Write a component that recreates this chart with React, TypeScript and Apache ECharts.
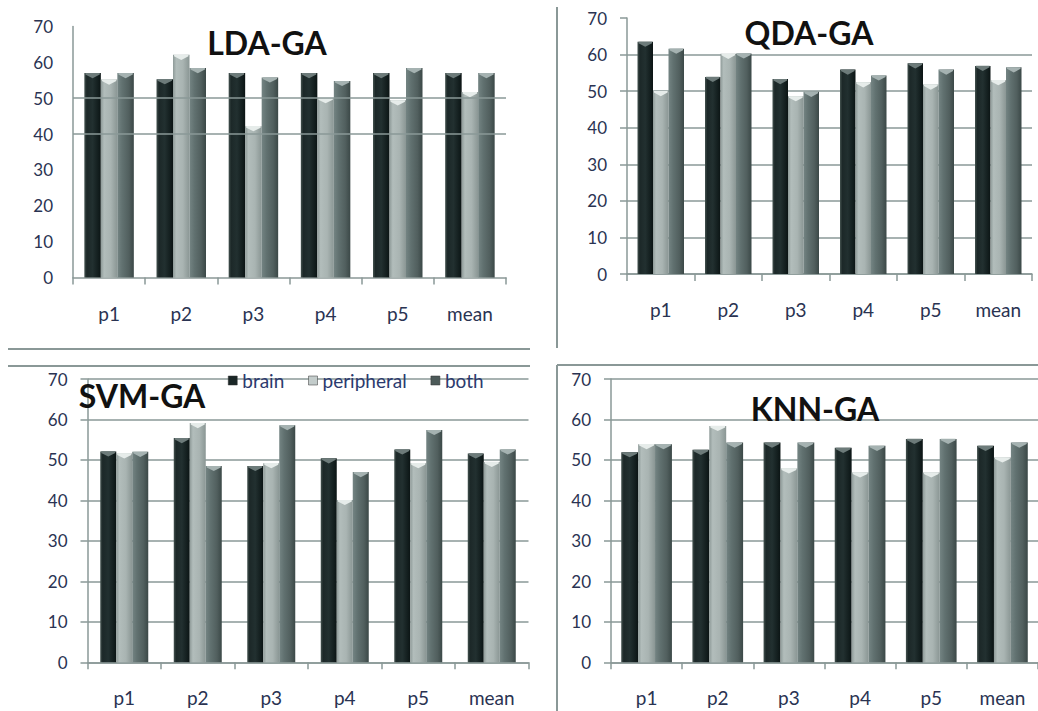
import React, { useEffect, useRef } from 'react';
import * as echarts from 'echarts';

const categories = ['p1', 'p2', 'p3', 'p4', 'p5', 'mean'];
const seriesNames = ['brain', 'peripheral', 'both'];

const ldaBrain = [57, 55.3, 57, 57, 57, 57];
const ldaPeripheral = [55.2, 62.1, 42.2, 50, 49.4, 51.7];
const ldaBoth = [57, 58.4, 55.8, 54.8, 58.4, 57];

const qdaBrain = [63.5, 53.9, 53.3, 55.9, 57.6, 56.9];
const qdaPeripheral = [50, 60.2, 48.6, 52.4, 51.8, 53];
const qdaBoth = [61.6, 60.3, 49.8, 54.3, 55.9, 56.5];

const svmBrain = [52.1, 55.4, 48.5, 50.4, 52.6, 51.6];
const svmPeripheral = [51.6, 59.1, 49.2, 40.1, 49.2, 49.5];
const svmBoth = [52, 48.5, 58.6, 47, 57.4, 52.6];

const knnBrain = [51.9, 52.5, 54.3, 53, 55.2, 53.5];
const knnPeripheral = [53.9, 58.4, 47.9, 46.9, 46.9, 50.6];
const knnBoth = [53.9, 54.3, 54.3, 53.5, 55.2, 54.3];

const ldaGridValues = [40, 50];

const FONT = 'Lato, "Open Sans", sans-serif';
const GRID_COLOR = '#8a9897';
const LABEL_COLOR = '#2a3352';

const barColors = [
  new echarts.graphic.LinearGradient(0, 0, 1, 0, [
    { offset: 0, color: '#44524f' },
    { offset: 0.15, color: '#1c2828' },
    { offset: 0.5, color: '#223030' },
    { offset: 0.85, color: '#121d1d' },
    { offset: 1, color: '#0b1414' },
  ]),
  new echarts.graphic.LinearGradient(0, 0, 1, 0, [
    { offset: 0, color: '#8e9a98' },
    { offset: 0.2, color: '#b2bdbb' },
    { offset: 0.6, color: '#a9b4b2' },
    { offset: 1, color: '#8a9694' },
  ]),
  new echarts.graphic.LinearGradient(0, 0, 1, 0, [
    { offset: 0, color: '#748483' },
    { offset: 0.3, color: '#617170' },
    { offset: 0.7, color: '#515f5e' },
    { offset: 1, color: '#3b4847' },
  ]),
];
const capColors = ['#6d7b7a', '#e6ecea', '#a5b2b1'];
const legendColors = ['#1a2626', '#c3cccb', '#4c5a59'];

const panels = [
  {
    title: 'LDA-GA', data: [ldaBrain, ldaPeripheral, ldaBoth],
    grid: { left: 73, top: 26.5, width: 433, height: 251 }, barWidth: 16.5,
    titleX: 267, titleY: 42, mode: 'partial', ticks: false,
  },
  {
    title: 'QDA-GA', data: [qdaBrain, qdaPeripheral, qdaBoth],
    grid: { left: 627, top: 18, width: 405, height: 256 }, barWidth: 15.5,
    titleX: 809, titleY: 32, mode: 'noMax', ticks: true,
  },
  {
    title: 'SVM-GA', data: [svmBrain, svmPeripheral, svmBoth],
    grid: { left: 87.5, top: 379, width: 441, height: 283.3 }, barWidth: 16,
    titleX: 142, titleY: 395, mode: 'all', ticks: true,
  },
  {
    title: 'KNN-GA', data: [knnBrain, knnPeripheral, knnBoth],
    grid: { left: 611, top: 379, width: 440, height: 283.3 }, barWidth: 16.9,
    titleX: 815, titleY: 408, mode: 'all', ticks: true,
  },
];

function buildOption() {
  const grids: any[] = [];
  const xAxes: any[] = [];
  const yAxes: any[] = [];
  const series: any[] = [];
  const graphics: any[] = [];

  panels.forEach((p, i) => {
    grids.push({ ...p.grid, containLabel: false });
    xAxes.push({
      type: 'category',
      gridIndex: i,
      data: categories,
      boundaryGap: true,
      axisLine: { show: true, lineStyle: { color: GRID_COLOR, width: 1.5 } },
      axisTick: { show: true, length: 7, lineStyle: { color: GRID_COLOR, width: 1.5 } },
      axisLabel: { margin: 26, fontFamily: FONT, fontSize: 19, color: LABEL_COLOR },
      splitLine: { show: false },
    });
    yAxes.push({
      type: 'value',
      gridIndex: i,
      min: 0,
      max: 70,
      interval: 10,
      axisLine: { show: true, lineStyle: { color: GRID_COLOR, width: 1.5 } },
      axisTick: { show: p.ticks, length: 7, lineStyle: { color: GRID_COLOR, width: 1.5 } },
      axisLabel: { margin: 20, fontFamily: FONT, fontSize: 17, color: LABEL_COLOR },
      splitLine: {
        show: p.mode !== 'partial',
        showMaxLine: p.mode === 'all',
        lineStyle: { color: GRID_COLOR, width: 1.5 },
      },
    });

    p.data.forEach((vals, k) => {
      const s: any = {
        type: 'bar',
        name: seriesNames[k],
        xAxisIndex: i,
        yAxisIndex: i,
        data: vals,
        barWidth: p.barWidth,
        barGap: '0%',
        itemStyle: { color: barColors[k] },
        silent: true,
      };
      if (k === 0 && p.mode === 'partial') {
        s.markLine = {
          silent: true,
          symbol: 'none',
          label: { show: false },
          lineStyle: { color: GRID_COLOR, width: 1.5, type: 'solid' },
          data: ldaGridValues.map((v) => ({ yAxis: v })),
        };
      }
      series.push(s);
    });
    p.data.forEach((vals, k) => {
      series.push({
        type: 'pictorialBar',
        name: 'cap' + k,
        xAxisIndex: i,
        yAxisIndex: i,
        data: vals,
        barWidth: p.barWidth,
        barGap: '0%',
        symbol: 'path://M0,0L10,0L10,1.5L5,5L0,1.5Z',
        symbolSize: [p.barWidth - 2, 5],
        symbolPosition: 'end',
        itemStyle: { color: capColors[k] },
        z: 3,
        silent: true,
      });
    });

    graphics.push({
      type: 'text',
      x: p.titleX,
      y: p.titleY,
      style: {
        text: p.title,
        fontFamily: FONT,
        fontSize: 32,
        fontWeight: 'bold',
        fill: '#111111',
        align: 'center',
        verticalAlign: 'middle',
      },
      z: 10,
    });
  });

  const sep = { stroke: GRID_COLOR, lineWidth: 2 };
  graphics.push(
    { type: 'line', shape: { x1: 557, y1: 7, x2: 557, y2: 348 }, style: sep },
    { type: 'line', shape: { x1: 8, y1: 349, x2: 530, y2: 349 }, style: sep },
    { type: 'line', shape: { x1: 8, y1: 366, x2: 530, y2: 366 }, style: sep },
    { type: 'line', shape: { x1: 557, y1: 365, x2: 1038, y2: 365 }, style: sep },
    { type: 'line', shape: { x1: 557, y1: 365, x2: 557, y2: 711 }, style: sep },
  );

  return {
    animation: false,
    backgroundColor: '#ffffff',
    grid: grids,
    xAxis: xAxes,
    yAxis: yAxes,
    series,
    legend: {
      left: 228,
      top: 371,
      padding: 0,
      itemWidth: 9,
      itemHeight: 9,
      itemGap: 24,
      icon: 'rect',
      selectedMode: false,
      textStyle: { fontFamily: FONT, fontSize: 19, color: '#2c3a6e' },
      data: seriesNames.map((n, k) => ({ name: n, itemStyle: { color: legendColors[k], borderColor: '#333', borderWidth: 0.5 } })),
    },
    graphic: graphics,
  };
}

export default function App() {
  const ref = useRef<HTMLDivElement>(null);
  useEffect(() => {
    if (!ref.current) return;
    const chart = echarts.init(ref.current, undefined, { renderer: 'svg' });
    chart.setOption(buildOption() as any);
    return () => chart.dispose();
  }, []);
  return (
    <div
      ref={ref}
      style={{ position: 'fixed', left: 0, top: 0, width: 1038, height: 711, background: '#fff' }}
    />
  );
}
